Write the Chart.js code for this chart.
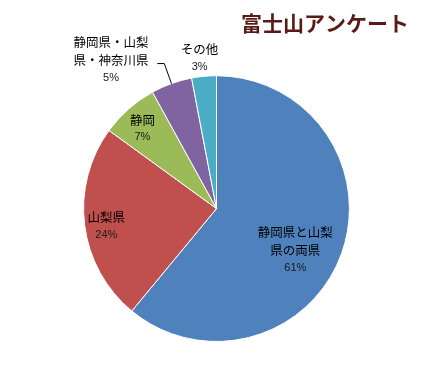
<!DOCTYPE html>
<html>
<head>
<meta charset="utf-8">
<script src="https://cdn.jsdelivr.net/npm/chart.js@4"></script>
<style>
    html, body { margin: 0; padding: 0; background: #fff; }
    #wrap { width: 436px; height: 374px; }
</style>
</head>
<body>
<div id="wrap"><canvas id="pieChart"></canvas></div>
<script>
const chartTitle = "富士山アンケート";

// slices, clockwise from 12 o'clock
const categories = [
    ["静岡県と山梨", "県の両県"],
    ["山梨県"],
    ["静岡"],
    ["静岡県・山梨", "県・神奈川県"],
    ["その他"]
];
const percentages = [61, 24, 7, 5, 3];

const colors = ["#4F81BD", "#C0504D", "#9BBB59", "#8064A2", "#4BACC6"];

// label placement: angle shift from slice middle (deg), distance as share of radius
const labelPlace = [
    { shift: 8, dist: 0.67, leader: false },
    { shift: -2, dist: 0.84, leader: false },
    { shift: -1.4, dist: 0.82, leader: false },
    { shift: -15.6, dist: 1.37, leader: true },
    { shift: -1, dist: 1.14, leader: false }
];

const pieLabels = {
    id: "pieLabels",
    afterDatasetsDraw(chart) {
        const ctx = chart.ctx;
        const arcs = chart.getDatasetMeta(0).data;
        const lineH = 17.5;

        arcs.forEach((arc, i) => {
            const p = arc.getProps(["x", "y", "startAngle", "endAngle", "outerRadius"], true);
            const mid = (p.startAngle + p.endAngle) / 2;
            const a = mid + labelPlace[i].shift * Math.PI / 180;
            const r = p.outerRadius * labelPlace[i].dist;
            const cx = p.x + Math.cos(a) * r;
            const cy = p.y + Math.sin(a) * r;

            const lines = categories[i].concat([percentages[i] + "%"]);
            const top = cy - (lines.length - 1) * lineH / 2;

            ctx.save();
            ctx.textAlign = "center";
            ctx.textBaseline = "middle";
            lines.forEach((txt, k) => {
                const isPct = k === lines.length - 1;
                ctx.font = isPct ? "11px 'Liberation Sans', sans-serif" : "12.5px 'Noto Sans CJK JP', sans-serif";
                ctx.fillStyle = isPct ? "#1a1a1a" : "#000";
                ctx.fillText(txt, cx, top + k * lineH);
            });

            // leader line for the small outside label
            if (labelPlace[i].leader) {
                const x0 = p.x + Math.cos(mid) * p.outerRadius;
                const y0 = p.y + Math.sin(mid) * p.outerRadius;
                const x1 = p.x + Math.cos(mid) * p.outerRadius * 1.16;
                const y1 = p.y + Math.sin(mid) * p.outerRadius * 1.16;
                ctx.strokeStyle = "#000";
                ctx.lineWidth = 1;
                ctx.beginPath();
                ctx.moveTo(x0, y0);
                ctx.lineTo(x1, y1);
                ctx.lineTo(x1 - 7, y1);
                ctx.stroke();
            }
            ctx.restore();
        });
    }
};

new Chart(document.getElementById("pieChart"), {
    type: "pie",
    data: {
        labels: categories.map(c => c.join("")),
        datasets: [{
            data: percentages,
            backgroundColor: colors,
            borderColor: "#fff",
            borderWidth: 1
        }]
    },
    options: {
        responsive: true,
        maintainAspectRatio: false,
        animation: false,
        layout: {
            padding: { left: 24, right: 27, top: 0, bottom: 32 }
        },
        plugins: {
            legend: { display: false },
            tooltip: { enabled: false },
            title: {
                display: true,
                text: chartTitle,
                align: "end",
                color: "#5a1a16",
                font: { family: "'Noto Sans CJK JP', sans-serif", size: 21, weight: "bold", lineHeight: 1.2 },
                padding: { top: 10, bottom: 40 }
            }
        }
    },
    plugins: [pieLabels]
});
</script>
</body>
</html>
